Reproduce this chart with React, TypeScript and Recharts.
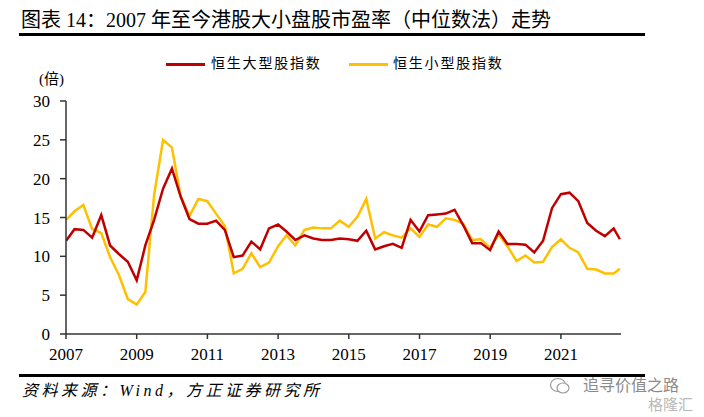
import React from 'react'
import { LineChart, Line, XAxis, YAxis } from 'recharts'

// sample dates: first trading day, quarter ends, then the latest reading
const dates = [
  '2007-01-02', '2007-03-30', '2007-06-29', '2007-09-28', '2007-12-31',
  '2008-03-31', '2008-06-30', '2008-09-30', '2008-12-31',
  '2009-03-31', '2009-06-30', '2009-09-30', '2009-12-31',
  '2010-03-31', '2010-06-30', '2010-09-30', '2010-12-31',
  '2011-03-31', '2011-06-30', '2011-09-30', '2011-12-30',
  '2012-03-30', '2012-06-29', '2012-09-28', '2012-12-31',
  '2013-03-28', '2013-06-28', '2013-09-30', '2013-12-31',
  '2014-03-31', '2014-06-30', '2014-09-30', '2014-12-31',
  '2015-03-31', '2015-06-30', '2015-09-30', '2015-12-31',
  '2016-03-31', '2016-06-30', '2016-09-30', '2016-12-30',
  '2017-03-31', '2017-06-30', '2017-09-29', '2017-12-29',
  '2018-03-29', '2018-06-29', '2018-09-28', '2018-12-31',
  '2019-03-29', '2019-06-28', '2019-09-30', '2019-12-31',
  '2020-03-31', '2020-06-30', '2020-09-30', '2020-12-31',
  '2021-03-31', '2021-06-30', '2021-09-30', '2021-12-31',
  '2022-03-31', '2022-06-30', '2022-09-02',
]

// 恒生大型股指数 PE (median)
const largeCap = [
  12.0, 13.5, 13.4, 12.4, 15.3, 11.4, 10.3, 9.3, 6.9,
  11.4, 14.7, 18.7, 21.3, 17.7, 14.8, 14.2, 14.2,
  14.6, 13.4, 9.9, 10.1, 11.9, 10.9, 13.6, 14.1,
  13.2, 12.1, 12.7, 12.3, 12.1, 12.1, 12.3, 12.2,
  12.0, 13.3, 10.9, 11.3, 11.6, 11.1, 14.7, 13.2,
  15.3, 15.4, 15.5, 16.0, 14.0, 11.7, 11.7, 10.8,
  13.2, 11.6, 11.6, 11.5, 10.5, 12.0, 16.2, 18.0,
  18.2, 17.1, 14.3, 13.3, 12.6, 13.6, 12.2,
]

// 恒生小型股指数 PE (median)
const smallCap = [
  14.7, 15.8, 16.6, 13.5, 13.0, 9.9, 7.6, 4.5, 3.8,
  5.4, 17.9, 25.0, 24.0, 17.7, 15.2, 17.4, 17.1,
  15.5, 13.9, 7.8, 8.4, 10.4, 8.6, 9.2, 11.3,
  12.7, 11.4, 13.4, 13.7, 13.6, 13.6, 14.6, 13.8,
  15.1, 17.4, 12.3, 13.1, 12.7, 12.4, 13.6, 12.5,
  14.1, 13.8, 14.9, 14.7, 14.2, 12.1, 12.2, 11.1,
  12.8, 11.3, 9.4, 10.1, 9.2, 9.3, 11.2, 12.2,
  11.1, 10.5, 8.4, 8.3, 7.8, 7.8, 8.4,
]

const xTicks = [2007, 2009, 2011, 2013, 2015, 2017, 2019, 2021]
const yTicks = [0, 5, 10, 15, 20, 25, 30]

const toYear = (s: string) => {
  const y = Number(s.slice(0, 4))
  const t = Date.parse(s + 'T00:00:00Z') - Date.UTC(y, 0, 1)
  return y + t / (365 * 86400000)
}

const data = dates.map((d, i) => ({
  t: toYear(d),
  large: largeCap[i],
  small: smallCap[i],
}))

const SERIF = '"Liberation Serif", "Times New Roman", "Noto Sans CJK SC", serif'
const SANS = '"Noto Sans CJK SC", sans-serif'
const RED = '#C00000'
const GOLD = '#FFC000'

export default function App() {
  return (
    <div
      style={{
        position: 'relative',
        width: 704,
        height: 417,
        background: '#fff',
        fontFamily: SERIF,
        color: '#000',
      }}
    >
      <style>{'body{margin:0}'}</style>

      {/* title */}
      <div
        style={{
          position: 'absolute',
          left: 21,
          top: 8,
          fontSize: 20,
          lineHeight: '24px',
          whiteSpace: 'nowrap',
        }}
      >
        图表 14：2007 年至今港股大小盘股市盈率（中位数法）走势
      </div>
      <div
        style={{ position: 'absolute', left: 19, top: 33, width: 626, height: 3, background: '#000' }}
      />

      {/* legend */}
      <div style={{ position: 'absolute', left: 166, top: 63, width: 39, height: 3, background: RED }} />
      <div
        style={{ position: 'absolute', left: 211, top: 54, fontSize: 14, letterSpacing: 1.8, lineHeight: '20px' }}
      >
        恒生大型股指数
      </div>
      <div style={{ position: 'absolute', left: 349, top: 63, width: 39, height: 3, background: GOLD }} />
      <div
        style={{ position: 'absolute', left: 393, top: 54, fontSize: 14, letterSpacing: 1.8, lineHeight: '20px' }}
      >
        恒生小型股指数
      </div>

      <div style={{ position: 'absolute', left: 39, top: 69, fontSize: 15, lineHeight: '20px' }}>(倍)</div>

      <div style={{ position: 'absolute', left: 0, top: 0 }}>
        <LineChart
          width={704}
          height={417}
          data={data}
          margin={{ top: 101, right: 83, bottom: 53, left: 0 }}
        >
          <XAxis
            dataKey="t"
            type="number"
            domain={[2007, 2022.7]}
            ticks={xTicks}
            tickFormatter={(v) => String(Math.round(v))}
            height={30}
            tickSize={5}
            tickMargin={9}
            axisLine={{ stroke: '#333', strokeWidth: 1.5 }}
            tickLine={{ stroke: '#333', strokeWidth: 1.5 }}
            tick={{ fill: '#000', fontSize: 17, fontFamily: SERIF }}
            allowDataOverflow
          />
          <YAxis
            type="number"
            domain={[0, 30]}
            ticks={yTicks}
            width={66}
            tickSize={6}
            tickMargin={10}
            axisLine={{ stroke: '#333', strokeWidth: 1.5 }}
            tickLine={{ stroke: '#333', strokeWidth: 1.5 }}
            tick={{ fill: '#000', fontSize: 17, fontFamily: SERIF }}
          />
          <Line
            dataKey="small"
            stroke={GOLD}
            strokeWidth={2.5}
            dot={false}
            isAnimationActive={false}
          />
          <Line
            dataKey="large"
            stroke={RED}
            strokeWidth={2.5}
            dot={false}
            isAnimationActive={false}
          />
        </LineChart>
      </div>

      {/* footer */}
      <div
        style={{ position: 'absolute', left: 19, top: 374, width: 626, height: 3, background: '#000' }}
      />
      <div
        style={{
          position: 'absolute',
          left: 22,
          top: 381,
          fontSize: 16,
          fontStyle: 'italic',
          letterSpacing: 3.5,
          lineHeight: '20px',
          whiteSpace: 'nowrap',
        }}
      >
        资料来源：Wind，方正证券研究所
      </div>

      {/* watermark */}
      <svg
        width={22}
        height={18}
        style={{ position: 'absolute', left: 549, top: 377 }}
      >
        <ellipse cx={9} cy={8} rx={7.5} ry={6.5} fill="none" stroke="#9a9a9a" strokeWidth={1.2} />
        <ellipse cx={14} cy={11} rx={6} ry={5} fill="#fff" stroke="#9a9a9a" strokeWidth={1.2} />
      </svg>
      <div
        style={{
          position: 'absolute',
          left: 583,
          top: 375,
          fontSize: 16,
          color: '#8a8a8a',
          fontFamily: SANS,
          lineHeight: '18px',
          whiteSpace: 'nowrap',
        }}
      >
        追寻价值之路
      </div>
      <div
        style={{
          position: 'absolute',
          left: 648,
          top: 395,
          fontSize: 15,
          color: '#b8b8b8',
          fontFamily: SANS,
          lineHeight: '17px',
          whiteSpace: 'nowrap',
        }}
      >
        格隆汇
      </div>
    </div>
  )
}
